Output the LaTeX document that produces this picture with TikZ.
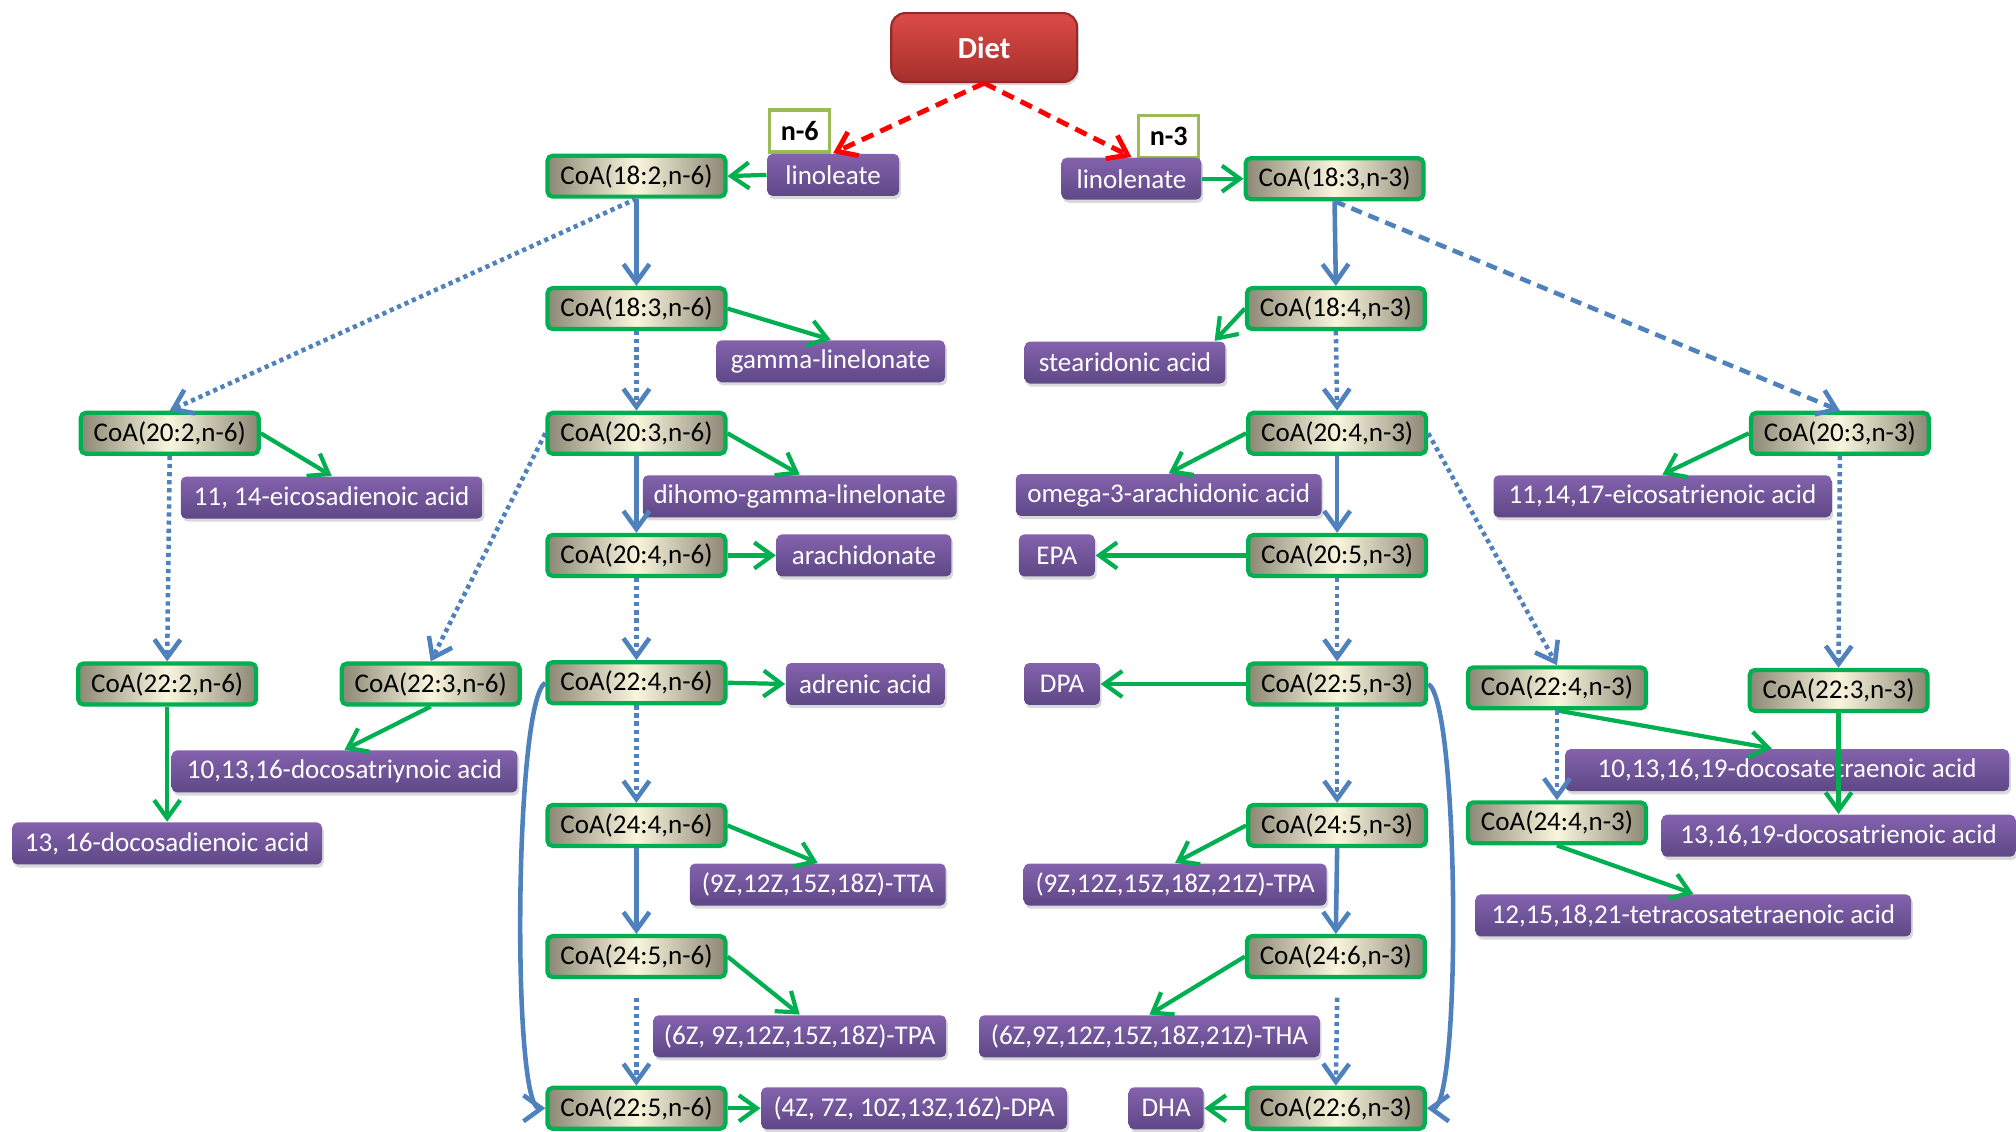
\documentclass[tikz,border=0pt]{standalone}
\usepackage{fontspec}
\setmainfont{Carlito}
\usetikzlibrary{arrows.meta,shadows,calc}
\definecolor{coaG}{HTML}{00B050}
\definecolor{coaE}{HTML}{8C8875}
\definecolor{coaM}{HTML}{FAF5DD}
\definecolor{pTop}{HTML}{8462AD}
\definecolor{pBot}{HTML}{5E4886}
\definecolor{arG}{HTML}{00B050}
\definecolor{arB}{HTML}{4F81BD}
\definecolor{dTop}{HTML}{DC4B46}
\definecolor{dBot}{HTML}{A62F2C}
\definecolor{dEdge}{HTML}{952A28}
\definecolor{nEdge}{HTML}{9BBB59}
\definecolor{rArr}{HTML}{FF0000}
\tikzset{
  coa/.style={rectangle, rounded corners=1.5pt, draw=coaG, line width=1.2pt,
    left color=coaE, right color=coaE, middle color=coaM,
    minimum width=1.78cm, minimum height=0.41cm, inner sep=0pt, text=black},
  pbox/.style={rectangle, rounded corners=1.5pt, top color=pTop, bottom color=pBot,
    text=white, minimum height=0.42cm, minimum width=#1, inner sep=0pt,
    drop shadow={shadow xshift=0.5pt, shadow yshift=-0.9pt, opacity=0.3}},
  nlab/.style={rectangle, draw=nEdge, line width=1pt, fill=white,
    minimum width=0.60cm, minimum height=0.42cm, inner sep=0pt,
    font=\fontsize{8}{9}\selectfont\bfseries},
  dietbox/.style={rectangle, rounded corners=4pt, draw=dEdge, line width=0.6pt,
    top color=dTop, bottom color=dBot, text=white,
    minimum width=1.86cm, minimum height=0.69cm, inner sep=0pt,
    font=\fontsize{8.7}{10}\selectfont\bfseries,
    drop shadow={shadow xshift=0.5pt, shadow yshift=-0.9pt, opacity=0.3}},
  tip/.style={-{Straight Barb[length=1.8mm,width=2.6mm]}},
  gar/.style={tip, draw=arG, line width=1.2pt},
  bsol/.style={tip, draw=arB, line width=1.3pt},
  bdot/.style={bsol, dash pattern=on 1.2pt off 1.1pt},
  bdash/.style={bsol, dash pattern=on 3.2pt off 2pt},
  rdash/.style={tip, draw=rArr, line width=1.4pt, dash pattern=on 3.6pt off 2.2pt},
}
\begin{document}
\begin{tikzpicture}[x=0.0128571cm, y=-0.0128571cm, font=\fontsize{7.7}{9}\selectfont]
\useasboundingbox (0,0) rectangle (1568,880);

% top
\node[dietbox] (diet) at (765.5,37) {Diet};
\node[nlab] (n6) at (622,102) {n-6};
\node[nlab] (n3) at (909,106) {n-3};
\node[pbox=1.32cm] (linoleate) at (648,136) {linoleate};
\node[pbox=1.40cm] (linolenate) at (880,139) {linolenate};

% n-6 CoA column
\node[coa] (a182n6) at (495,137) {CoA(18:2,n-6)};
\node[coa] (a183n6) at (495,240) {CoA(18:3,n-6)};
\node[coa] (a203n6) at (495,337) {CoA(20:3,n-6)};
\node[coa] (a204n6) at (495,432) {CoA(20:4,n-6)};
\node[coa] (a224n6) at (495,531) {CoA(22:4,n-6)};
\node[coa] (a244n6) at (495,642) {CoA(24:4,n-6)};
\node[coa] (a245n6) at (495,744) {CoA(24:5,n-6)};
\node[coa] (a225n6) at (495,862) {CoA(22:5,n-6)};
\node[coa] (a202n6) at (132,337) {CoA(20:2,n-6)};
\node[coa] (a222n6) at (130,532) {CoA(22:2,n-6)};
\node[coa] (a223n6) at (335,532) {CoA(22:3,n-6)};

% n-3 CoA column
\node[coa] (a183n3) at (1038,139) {CoA(18:3,n-3)};
\node[coa] (a184n3) at (1039,240) {CoA(18:4,n-3)};
\node[coa] (a204n3) at (1040,337) {CoA(20:4,n-3)};
\node[coa] (a205n3) at (1040,432) {CoA(20:5,n-3)};
\node[coa] (a225n3) at (1040,532) {CoA(22:5,n-3)};
\node[coa] (a245n3) at (1040,642) {CoA(24:5,n-3)};
\node[coa] (a246n3) at (1039,744) {CoA(24:6,n-3)};
\node[coa] (a226n3) at (1039,862) {CoA(22:6,n-3)};
\node[coa] (a203n3) at (1431,337) {CoA(20:3,n-3)};
\node[coa] (a224n3) at (1211,535) {CoA(22:4,n-3)};
\node[coa] (a223n3) at (1430,537) {CoA(22:3,n-3)};
\node[coa] (a244n3) at (1211,640) {CoA(24:4,n-3)};

% products
\node[pbox=2.29cm] (gamma) at (646,281) {gamma-linelonate};
\node[pbox=2.01cm] (stear) at (875,282) {stearidonic acid};
\node[pbox=3.02cm] (eico2) at (258,387) {11, 14-eicosadienoic acid};
\node[pbox=3.14cm] (dihomo) at (622,386) {dihomo-gamma-linelonate};
\node[pbox=3.06cm] (omega) at (909,385) {omega-3-arachidonic acid};
\node[pbox=3.38cm] (eico3) at (1293,386) {11,14,17-eicosatrienoic acid};
\node[pbox=1.75cm] (arach) at (672,432) {arachidonate};
\node[pbox=0.76cm] (epa) at (822,432) {EPA};
\node[pbox=1.59cm] (adrenic) at (673,532) {adrenic acid};
\node[pbox=0.76cm] (dpa) at (826,532) {DPA};
\node[pbox=3.46cm] (triyn) at (268,600) {10,13,16-docosatriynoic acid};
\node[pbox=4.44cm] (tetra) at (1390,599) {10,13,16,19-docosatetraenoic acid};
\node[pbox=3.10cm] (dien) at (130,656) {13, 16-docosadienoic acid};
\node[pbox=3.54cm] (trien) at (1430,650) {13,16,19-docosatrienoic acid};
\node[pbox=2.56cm] (tta) at (636,688) {(9Z,12Z,15Z,18Z)-TTA};
\node[pbox=3.03cm] (tpaA) at (914,688) {(9Z,12Z,15Z,18Z,21Z)-TPA};
\node[pbox=4.36cm] (tetracosa) at (1317,712) {12,15,18,21-tetracosatetraenoic acid};
\node[pbox=2.93cm] (tpaB) at (622,806) {(6Z, 9Z,12Z,15Z,18Z)-TPA};
\node[pbox=3.41cm] (tha) at (894,806) {(6Z,9Z,12Z,15Z,18Z,21Z)-THA};
\node[pbox=3.06cm] (dpaB) at (711,862) {(4Z, 7Z, 10Z,13Z,16Z)-DPA};
\node[pbox=0.75cm] (dha) at (907,862) {DHA};

\coordinate (s1) at (495,776);
\coordinate (s2) at (1040,776);

% diet arrows
\draw[rdash] (diet.south) -- (linoleate.north);
\draw[rdash] (diet.south) -- (linolenate.north);

% green conversions
\draw[gar] (linoleate.west) -- (a182n6.east);
\draw[gar] (linolenate.east) -- (a183n3.west);
\draw[gar] (a183n6.east) -- (gamma.north);
\draw[gar] (a184n3.west) -- ($(stear.north east)+(-9,0)$);
\draw[gar] (a202n6.east) -- (eico2.north);
\draw[gar] (a203n6.east) -- (dihomo.north);
\draw[gar] (a204n3.west) -- (omega.north);
\draw[gar] (a203n3.west) -- (eico3.north);
\draw[gar] (a204n6.east) -- (arach.west);
\draw[gar] (a205n3.west) -- (epa.east);
\draw[gar] (a224n6.east) -- (adrenic.west);
\draw[gar] (a225n3.west) -- (dpa.east);
\draw[gar] (a222n6.south) -- (dien.north);
\draw[gar] (a223n6.south) -- (triyn.north);
\draw[gar] (a224n3.south) -- ($(tetra.north)+(-12,0)$);
\draw[gar] (a244n6.east) -- (tta.north);
\draw[gar] (a245n3.west) -- (tpaA.north);
\draw[gar] (a244n3.south) -- (tetracosa.north);
\draw[gar] (a245n6.east) -- (tpaB.north);
\draw[gar] (a246n3.west) -- (tha.north);
\draw[gar] (a225n6.east) -- (dpaB.west);
\draw[gar] (a226n3.west) -- (dha.east);

% blue solid
\draw[bsol] (a182n6.south) -- (a183n6.north);
\draw[bsol] (a183n3.south) -- (a184n3.north);
\draw[bsol] (a203n6.south) -- (a204n6.north);
\draw[bsol] (a204n3.south) -- (a205n3.north);
\draw[bsol] (a244n6.south) -- (a245n6.north);
\draw[bsol] (a245n3.south) -- (a246n3.north);
\draw[bsol] (a224n6.west) .. controls (400,545) and (398,862) .. (a225n6.west);
\draw[bsol] (a225n3.east) .. controls (1135,545) and (1137,862) .. (a226n3.east);

% blue dotted / dashed
\draw[bdot] (a182n6.south) -- (a202n6.north);
\draw[bdot] (a183n6.south) -- (a203n6.north);
\draw[bdash] (a183n3.south) -- (a203n3.north);
\draw[bdot] (a184n3.south) -- (a204n3.north);
\draw[bdot] (a202n6.south) -- (a222n6.north);
\draw[bdot] (a203n6.west) -- (a223n6.north);
\draw[bdot] (a204n3.east) -- (a224n3.north);
\draw[bdot] (a203n3.south) -- (a223n3.north);
\draw[bdot] (a204n6.south) -- (a224n6.north);
\draw[bdot] (a205n3.south) -- (a225n3.north);
\draw[bdot] (a224n6.south) -- (a244n6.north);
\draw[bdot] (a225n3.south) -- (a245n3.north);
\draw[bdot] (a224n3.south) -- (a244n3.north);
\draw[bdot] (s1) -- (a225n6.north);
\draw[bdot] (s2) -- (a226n3.north);

% green drawn over a box
\draw[gar] (a223n3.south) -- (trien.north);
\end{tikzpicture}
\end{document}
